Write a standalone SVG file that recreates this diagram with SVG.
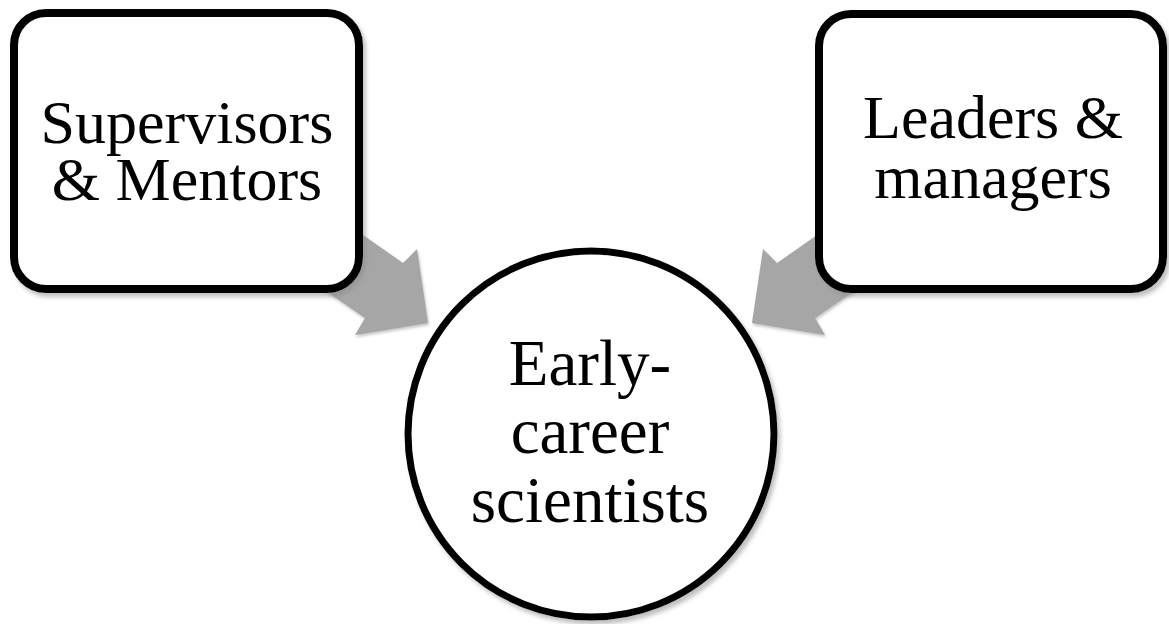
<svg xmlns="http://www.w3.org/2000/svg" width="1169" height="624" viewBox="0 0 1169 624">
  <defs>
    <filter id="shadow" x="-10%" y="-10%" width="130%" height="130%">
      <feDropShadow dx="3" dy="4" stdDeviation="2" flood-color="#8c8c8c" flood-opacity="0.55"/>
    </filter>
    <filter id="glow" x="-20%" y="-20%" width="140%" height="140%">
      <feDropShadow dx="1" dy="2" stdDeviation="1.5" flood-color="#9a9a9a" flood-opacity="0.6"/>
    </filter>
  </defs>
  <style>
    .box { fill: #ffffff; stroke: #000000; stroke-width: 8; }
    .hub { fill: #ffffff; stroke: #000000; stroke-width: 7; }
    .arrow { fill: #a6a6a6; stroke: none; }
    .label { font-family: "Liberation Serif", "DejaVu Serif", serif; fill: #000000; text-anchor: middle; }
    .side { font-size: 62px; }
    .center { font-size: 65px; }
  </style>

  <!-- block arrows pointing from each role box to the central circle -->
  <g id="connectors" filter="url(#glow)">
    <polygon class="arrow" points="330,212 403,263 417,249 428,323 355,335 365,318 300,273"/>
    <polygon class="arrow" points="850,212 777,263 763,249 752,323 825,335 815,318 880,273"/>
  </g>

  <g id="supervisors" filter="url(#shadow)">
    <rect class="box" x="14" y="13" width="345" height="276" rx="32" ry="32"/>
    <text class="label side"><tspan x="187" y="143">Supervisors</tspan><tspan x="187" y="200">&amp; Mentors</tspan></text>
  </g>

  <g id="leaders" filter="url(#shadow)">
    <rect class="box" x="819" y="14" width="344" height="275" rx="32" ry="32"/>
    <text class="label side"><tspan x="993" y="138">Leaders &amp;</tspan><tspan x="993" y="198">managers</tspan></text>
  </g>

  <g id="early-career" filter="url(#shadow)">
    <circle class="hub" cx="591" cy="434" r="183"/>
    <text class="label center"><tspan x="590" y="385">Early-</tspan><tspan x="590" y="453">career</tspan><tspan x="590" y="522">scientists</tspan></text>
  </g>
</svg>
